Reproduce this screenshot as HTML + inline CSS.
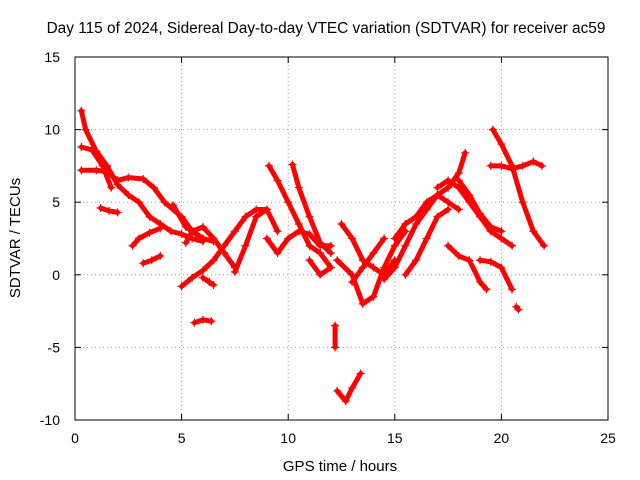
<!DOCTYPE html>
<html><head><meta charset="utf-8"><style>
body{margin:0;background:#fff}
svg{display:block;font-family:"Liberation Sans",sans-serif}
</style></head><body>
<svg id="chart" width="640" height="480" viewBox="0 0 640 480">
<rect width="640" height="480" fill="#fff"/>
<text x="326" y="33" font-size="15.4" text-anchor="middle">Day 115 of 2024, Sidereal Day-to-day VTEC variation (SDTVAR) for receiver ac59</text>
<g id="grid"></g>
<g id="ticks"></g>
<g id="series"></g>
<rect x="75" y="57" width="533" height="363" fill="none" stroke="#000" stroke-width="1"/>
<text x="340" y="471" font-size="15" text-anchor="middle">GPS time / hours</text>
<text transform="translate(20,238) rotate(-90)" font-size="15" text-anchor="middle">SDTVAR / TECUs</text>
</svg>
<script>
const xTicks=[0,5,10,15,20,25];
const yTicks=[-10,-5,0,5,10,15];
const tracks=[
[[0.3,11.3],[0.5,10],[1,8.5],[1.5,7.5],[2,6.2],[2.5,5.5],[3,5],[3.5,4],[4,3.5],[4.5,3],[5,2.8],[5.5,2.5],[6,2.3]],
[[0.3,8.8],[0.8,8.6],[1.3,7.5],[1.7,6]],
[[1.2,4.6],[1.6,4.4],[2,4.3]],
[[0.3,7.2],[1,7.2],[1.5,7.1],[2,6.5],[2.5,6.7],[3.2,6.6],[3.7,6],[4.2,5],[5,4],[5.5,3],[6,2.5]],
[[2.7,2],[3,2.5],[3.5,2.9],[4,3.2]],
[[3.2,0.8],[3.6,1],[4,1.3]],
[[4.6,4.8],[5.2,3.3],[6,2.5],[6.5,2.3]],
[[5,-0.8],[5.5,-0.2],[6,0.3],[6.5,1],[7,2],[7.5,3],[8,4],[8.5,4.5],[9,4.5]],
[[6,-0.2],[6.3,-0.5],[6.5,-0.7]],
[[5.6,-3.3],[6,-3.1],[6.4,-3.2]],
[[5.2,2.2],[5.5,3],[6,3.3],[6.5,2.5],[7,1.5],[7.5,0.5]],
[[7.5,0.2],[8,2],[8.5,4],[9,4.5],[9.5,3]],
[[9.1,7.5],[9.5,6.5],[10,5],[10.5,3.5],[11,2],[11.5,1.5],[12,0.5]],
[[10.2,7.6],[10.5,6],[11,4],[11.5,2.2],[12,1.5]],
[[9,2.5],[9.5,1.5],[10,2.5],[10.5,3],[11,2.8],[11.5,2],[12,2]],
[[11,1],[11.5,0],[12,0.5]],
[[12.2,-3.5],[12.2,-5]],
[[12.3,-8],[12.7,-8.7],[13,-7.8],[13.4,-6.8]],
[[12.5,3.5],[13,2.5],[13.5,1],[14,0.5],[14.5,0],[15,1]],
[[12.3,1],[13,0],[13.5,-2],[14,-1.5],[14.5,0.5],[15,2],[15.5,3]],
[[13,-0.5],[13.5,0.5],[14,1.5],[14.5,2.5]],
[[14.5,-0.3],[15,0.5],[15.5,2],[16,3.5],[16.5,4.5],[17,5.5],[17.5,6],[18,7],[18.3,8.4]],
[[15,2.5],[15.5,3.5],[16,4],[16.5,5],[17,5.5],[17.5,5],[18,4.5]],
[[15.5,0],[16,1],[16.5,2.5],[17,4],[17.5,4.5]],
[[17,6],[17.5,6.5],[18,6],[18.5,5],[19,4],[19.5,3],[20,2.5],[20.5,2]],
[[17.5,2],[18,1.3],[18.5,1],[19,-0.5],[19.3,-1]],
[[19,1],[19.5,0.9],[20,0.5],[20.5,-1]],
[[20.7,-2.2],[20.8,-2.4]],
[[19.6,10],[20,9],[20.5,7.5],[21,5],[21.5,3],[22,2]],
[[19.5,7.5],[20,7.5],[20.5,7.3],[21,7.5],[21.5,7.8],[21.9,7.5]],
[[18,6.5],[18.5,5.5],[19,4.2],[19.5,3.3],[20,3]]
];
const NS='http://www.w3.org/2000/svg';
const X0=75,X1=608,Y0=420,Y1=57;
function sx(t){return X0+(t-0)/(25-0)*(X1-X0);}
function sy(v){return Y0-(v-(-10))/(15-(-10))*(Y0-Y1);}
const grid=document.getElementById('grid'),ticks=document.getElementById('ticks'),series=document.getElementById('series');
function mk(tag,attrs,parent){const e=document.createElementNS(NS,tag);for(const k in attrs)e.setAttribute(k,attrs[k]);parent.appendChild(e);return e;}
xTicks.forEach(t=>{
 if(t>0&&t<25){const g=mk('line',{x1:sx(t),x2:sx(t),y1:Y1,y2:Y0,stroke:'#a0a0a0','stroke-dasharray':'1,3'},grid);
 
 }
 const tl=mk('text',{x:sx(t),y:443,'font-size':14,'text-anchor':'middle'},ticks);tl.textContent=t;
 
 
 mk('line',{x1:sx(t),x2:sx(t),y1:Y0,y2:Y0-6,stroke:'#000'},ticks);
 mk('line',{x1:sx(t),x2:sx(t),y1:Y1,y2:Y1+6,stroke:'#000'},ticks);
});
yTicks.forEach(v=>{
 if(v>-10&&v<15){const g=mk('line',{x1:X0,x2:X1,y1:sy(v),y2:sy(v),stroke:'#a0a0a0','stroke-dasharray':'1,3'},grid);
 
 }
 const tl=mk('text',{x:60,y:sy(v)+5,'font-size':14,'text-anchor':'end'},ticks);tl.textContent=v;
 
 
 mk('line',{x1:X0,x2:X0+6,y1:sy(v),y2:sy(v),stroke:'#000'},ticks);
 mk('line',{x1:X1,x2:X1-6,y1:sy(v),y2:sy(v),stroke:'#000'},ticks);
});
tracks.forEach(tr=>{
 const p=mk('polyline',{points:tr.map(d=>sx(d[0])+','+sy(d[1])).join(' '),fill:'none',stroke:'#f00','stroke-width':5,'stroke-linejoin':'round','stroke-linecap':'round'},series);
 
 
 tr.forEach(d=>{
  const m=mk('path',{d:`M${sx(d[0])-4},${sy(d[1])}h8M${sx(d[0])},${sy(d[1])-4}v8`,stroke:'#f00','stroke-width':1.2},series);
  
  
 });
});
</script>
</body></html>
